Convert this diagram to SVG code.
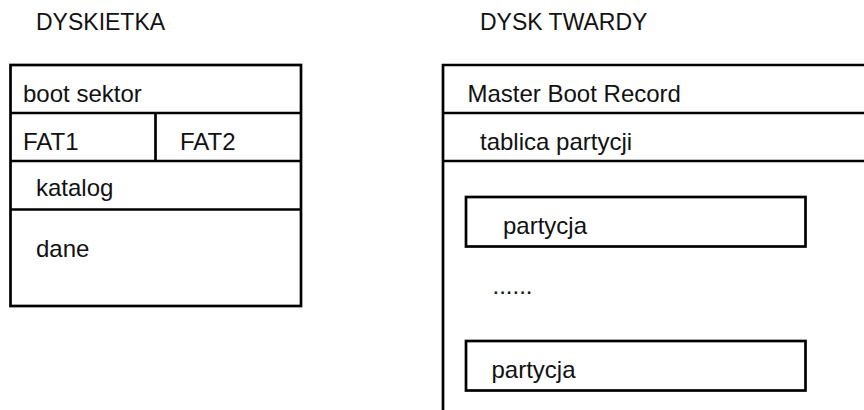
<svg xmlns="http://www.w3.org/2000/svg" width="864" height="410" viewBox="0 0 864 410">
<style>
.t{font-family:"Liberation Sans",Arial,sans-serif;font-size:24px;fill:#111}
.h{font-family:"Liberation Sans",Arial,sans-serif;font-size:23px;fill:#111}
.s{fill:none;stroke:#000;stroke-width:2.7}
</style>
<rect width="864" height="410" fill="#fff"/>
<text class="h" x="36" y="30">DYSKIETKA</text>
<text class="h" x="480" y="30">DYSK TWARDY</text>
<g id="dyskietka">
<rect class="s" x="10.5" y="65" width="290.5" height="241"/>
<line class="s" x1="10.5" y1="113" x2="301" y2="113"/>
<line class="s" x1="10.5" y1="161" x2="301" y2="161"/>
<line class="s" x1="10.5" y1="209.5" x2="301" y2="209.5"/>
<line class="s" x1="155.5" y1="113" x2="155.5" y2="161"/>
<text class="t" x="23" y="101.5">boot sektor</text>
<text class="t" x="23" y="150">FAT1</text>
<text class="t" x="180" y="150">FAT2</text>
<text class="t" x="36" y="196">katalog</text>
<text class="t" x="36" y="256.5">dane</text>
</g>
<g id="dysk">
<polyline class="s" points="443,412 443,65 866,65"/>
<line class="s" x1="443" y1="113" x2="866" y2="113"/>
<line class="s" x1="443" y1="161" x2="866" y2="161"/>
<text class="t" x="467.5" y="101.5">Master Boot Record</text>
<text class="t" x="480" y="150">tablica partycji</text>
<text class="t" x="492.5" y="294">......</text>
</g>
<g id="partycja1">
<rect class="s" x="466" y="197" width="339.5" height="49.5"/>
<text class="t" x="503" y="233.5">partycja</text>
</g>
<g id="partycja2">
<rect class="s" x="466" y="341" width="339.5" height="49.5"/>
<text class="t" x="491.5" y="377.5">partycja</text>
</g>
</svg>
